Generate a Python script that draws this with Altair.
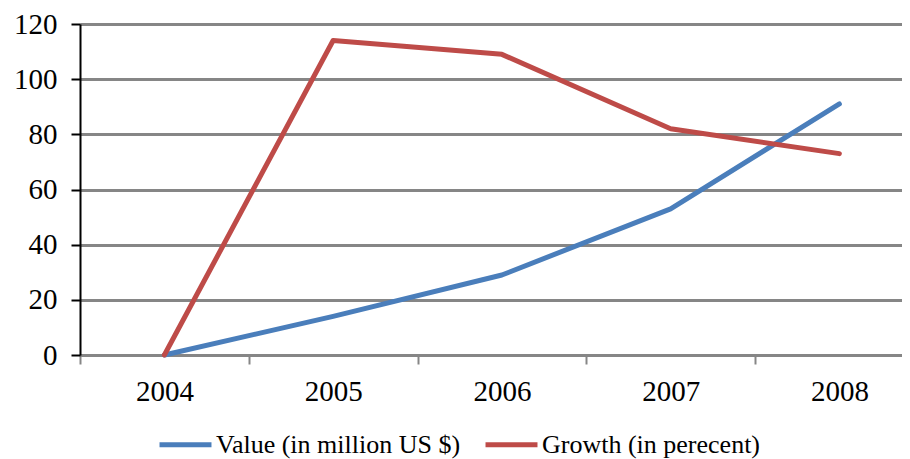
import altair as alt
import pandas as pd

years = [2004, 2005, 2006, 2007, 2008]
value_musd = [0, 14, 29, 53, 91]
growth_pct = [0, 114, 109, 82, 73]
series_names = ["Value (in million US $)", "Growth (in perecent)"]
series_colors = ["#4a7ebb", "#be4b48"]
y_ticks = [0, 20, 40, 60, 80, 100, 120]
x_tick_bounds = [2003.5, 2004.5, 2005.5, 2006.5, 2007.5]

rows = []
for y, v, g in zip(years, value_musd, growth_pct):
    rows.append({"year": y, "series": series_names[0], "val": v})
    rows.append({"year": y, "series": series_names[1], "val": g})
df = pd.DataFrame(rows)

FONT = "Liberation Serif"
W, H = 822, 331
band = 168.75

chart = alt.Chart(df).mark_line(strokeWidth=5, strokeCap="round", strokeJoin="round").encode(
    x=alt.X("year:Q",
            scale=alt.Scale(domain=[2003.5, 2003.5 + W / band], nice=False, zero=False),
            axis=alt.Axis(values=x_tick_bounds, title=None, grid=False, domain=False,
                          labelExpr="toString(datum.value + 0.5)", labelOffset=band / 2,
                          labelFlush=False, labelOverlap=False, labelBound=False,
                          tickColor="#868686", tickSize=9, tickWidth=2,
                          labelFont=FONT, labelFontSize=29, labelColor="black",
                          labelPadding=13)),
    y=alt.Y("val:Q", scale=alt.Scale(domain=[0, 120], nice=False),
            axis=alt.Axis(values=y_ticks, title=None, grid=True, gridColor="#868686",
                          gridWidth=3, domainColor="black", domainWidth=2,
                          tickColor="black", tickSize=9, tickWidth=2,
                          labelFont=FONT, labelFontSize=29, labelColor="black",
                          labelPadding=14)),
    color=alt.Color("series:N", scale=alt.Scale(domain=series_names, range=series_colors),
                    legend=alt.Legend(title=None, orient="none", direction="horizontal",
                                      legendX=77, legendY=392,
                                      symbolType="stroke", symbolSize=2700,
                                      symbolStrokeWidth=5, labelFont=FONT,
                                      labelFontSize=26, labelColor="black",
                                      columnPadding=14, labelOffset=2,
                                      labelLimit=400)),
    order=alt.Order("series:N", sort="descending"),
).properties(
    width=W, height=H,
    autosize=alt.AutoSizeParams(type="none"),
    padding={"left": 72, "top": 16, "right": 0, "bottom": 104},
).configure_view(stroke=None).configure(background="white")

chart.save("out.html", embed_options={"renderer": "svg", "actions": False})
